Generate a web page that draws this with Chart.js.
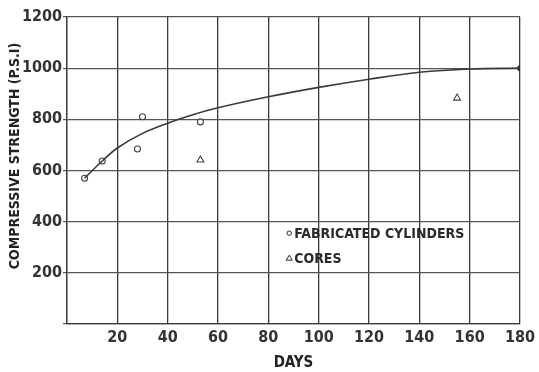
<!DOCTYPE html>
<html>
<head>
<meta charset="utf-8">
<script src="https://cdn.jsdelivr.net/npm/chart.js@4"></script>
<style>
  html, body { margin: 0; padding: 0; background: #fff; }
  #wrap { width: 539px; height: 372px; }
</style>
</head>
<body>
<div id="wrap"><canvas id="chart" width="539" height="372"></canvas></div>
<script>
// values
const cylinderDays = [7, 14, 28, 30, 53];
const cylinderPsi = [570, 637, 684, 810, 790];
const coreDays = [53, 155];
const corePsi = [641, 883];
const curveDays = [7, 14, 20, 30, 40, 50, 60, 80, 100, 120, 140, 160, 180];
const curvePsi = [570, 637, 688, 745, 785, 818, 845, 888, 925, 957, 984, 997, 1000];
const endDays = [180];
const endPsi = [1000];
const legendLabels = ['FABRICATED CYLINDERS', 'CORES'];
const yTitle = 'COMPRESSIVE STRENGTH (P.S.I)';

const FONT = "'Liberation Sans Narrow', 'DejaVu Sans Condensed', 'Roboto', sans-serif";
const ink = '#2a2a2a';

const toXY = (xs, ys) => xs.map((x, i) => ({ x: x, y: ys[i] }));

// legend sits inside the plot, below the 400 gridline
const insideLegend = {
    id: 'insideLegend',
    afterDatasetsDraw(chart) {
        const { ctx, scales } = chart;
        const x0 = scales.x.getPixelForValue(88.3);
        const y0 = scales.y.getPixelForValue(355);
        const gap = 25;
        ctx.save();
        ctx.fillStyle = ink;
        ctx.strokeStyle = ink;
        ctx.font = "bold 14px " + FONT;
        ctx.textBaseline = 'middle';
        ctx.lineWidth = 1;
        ctx.beginPath();
        ctx.arc(x0, y0, 2.2, 0, Math.PI * 2);
        ctx.stroke();
        ctx.fillText(legendLabels[0], x0 + 5, y0 + 1);
        const ty = y0 + gap;
        ctx.beginPath();
        ctx.moveTo(x0, ty - 3);
        ctx.lineTo(x0 + 3, ty + 2);
        ctx.lineTo(x0 - 3, ty + 2);
        ctx.closePath();
        ctx.stroke();
        ctx.fillText(legendLabels[1], x0 + 5, ty + 1);
        ctx.restore();
    }
};

// y title drawn by hand: in the figure it sits higher than the axis centre
const yAxisTitle = {
    id: 'yAxisTitle',
    afterDraw(chart) {
        const { ctx } = chart;
        ctx.save();
        ctx.translate(15, 156);
        ctx.rotate(-Math.PI / 2);
        ctx.fillStyle = '#222';
        ctx.font = "bold 14px " + FONT;
        ctx.textAlign = 'center';
        ctx.textBaseline = 'middle';
        ctx.fillText(yTitle, 0, 0);
        ctx.restore();
    }
};

new Chart(document.getElementById('chart'), {
    type: 'scatter',
    data: {
        datasets: [
            {
                type: 'line',
                data: toXY(curveDays, curvePsi),
                borderColor: '#3a3a3a',
                borderWidth: 1.6,
                pointRadius: 0,
                tension: 0.35,
                fill: false,
            },
            {
                data: toXY(cylinderDays, cylinderPsi),
                pointStyle: 'circle',
                pointRadius: 3,
                borderColor: '#444',
                backgroundColor: 'rgba(255,255,255,0.6)',
                borderWidth: 1.1,
            },
            {
                data: toXY(coreDays, corePsi),
                pointStyle: 'triangle',
                pointRadius: 4,
                borderColor: '#444',
                backgroundColor: 'rgba(255,255,255,0.6)',
                borderWidth: 1.1,
            },
            {
                data: toXY(endDays, endPsi),
                pointStyle: 'circle',
                pointRadius: 2.5,
                borderColor: '#222',
                backgroundColor: '#222',
            },
        ]
    },
    options: {
        responsive: false,
        animation: false,
        events: [],
        layout: {
            padding: { top: 17, right: 13, left: 0, bottom: 0 }
        },
        plugins: {
            legend: { display: false },
            tooltip: { enabled: false },
        },
        scales: {
            x: {
                type: 'linear',
                min: 0,
                max: 180,
                ticks: {
                    stepSize: 20,
                    color: '#333',
                    font: { family: FONT, size: 16, weight: 'bold' },
                    padding: 4,
                    callback: (v) => v === 0 ? '' : v,
                },
                grid: {
                    color: '#3a3a3a',
                    lineWidth: 1.3,
                    drawTicks: false,
                },
                border: { color: '#3a3a3a', width: 1.3 },
                title: {
                    display: true,
                    text: 'DAYS',
                    color: '#222',
                    font: { family: FONT, size: 15, weight: 'bold' },
                    padding: { top: 2, bottom: 0 },
                },
                afterFit: (axis) => { axis.height = 48; },
            },
            y: {
                min: 0,
                max: 1200,
                ticks: {
                    stepSize: 200,
                    color: '#333',
                    font: { family: FONT, size: 16, weight: 'bold' },
                    padding: 1,
                    callback: (v) => v === 0 ? '' : v,
                },
                grid: {
                    color: '#555',
                    lineWidth: 1.2,
                    tickLength: 4,
                },
                border: { color: '#3a3a3a', width: 1.3 },
                afterFit: (axis) => { axis.width = 67; },
            }
        }
    },
    plugins: [insideLegend, yAxisTitle]
});
</script>
</body>
</html>
